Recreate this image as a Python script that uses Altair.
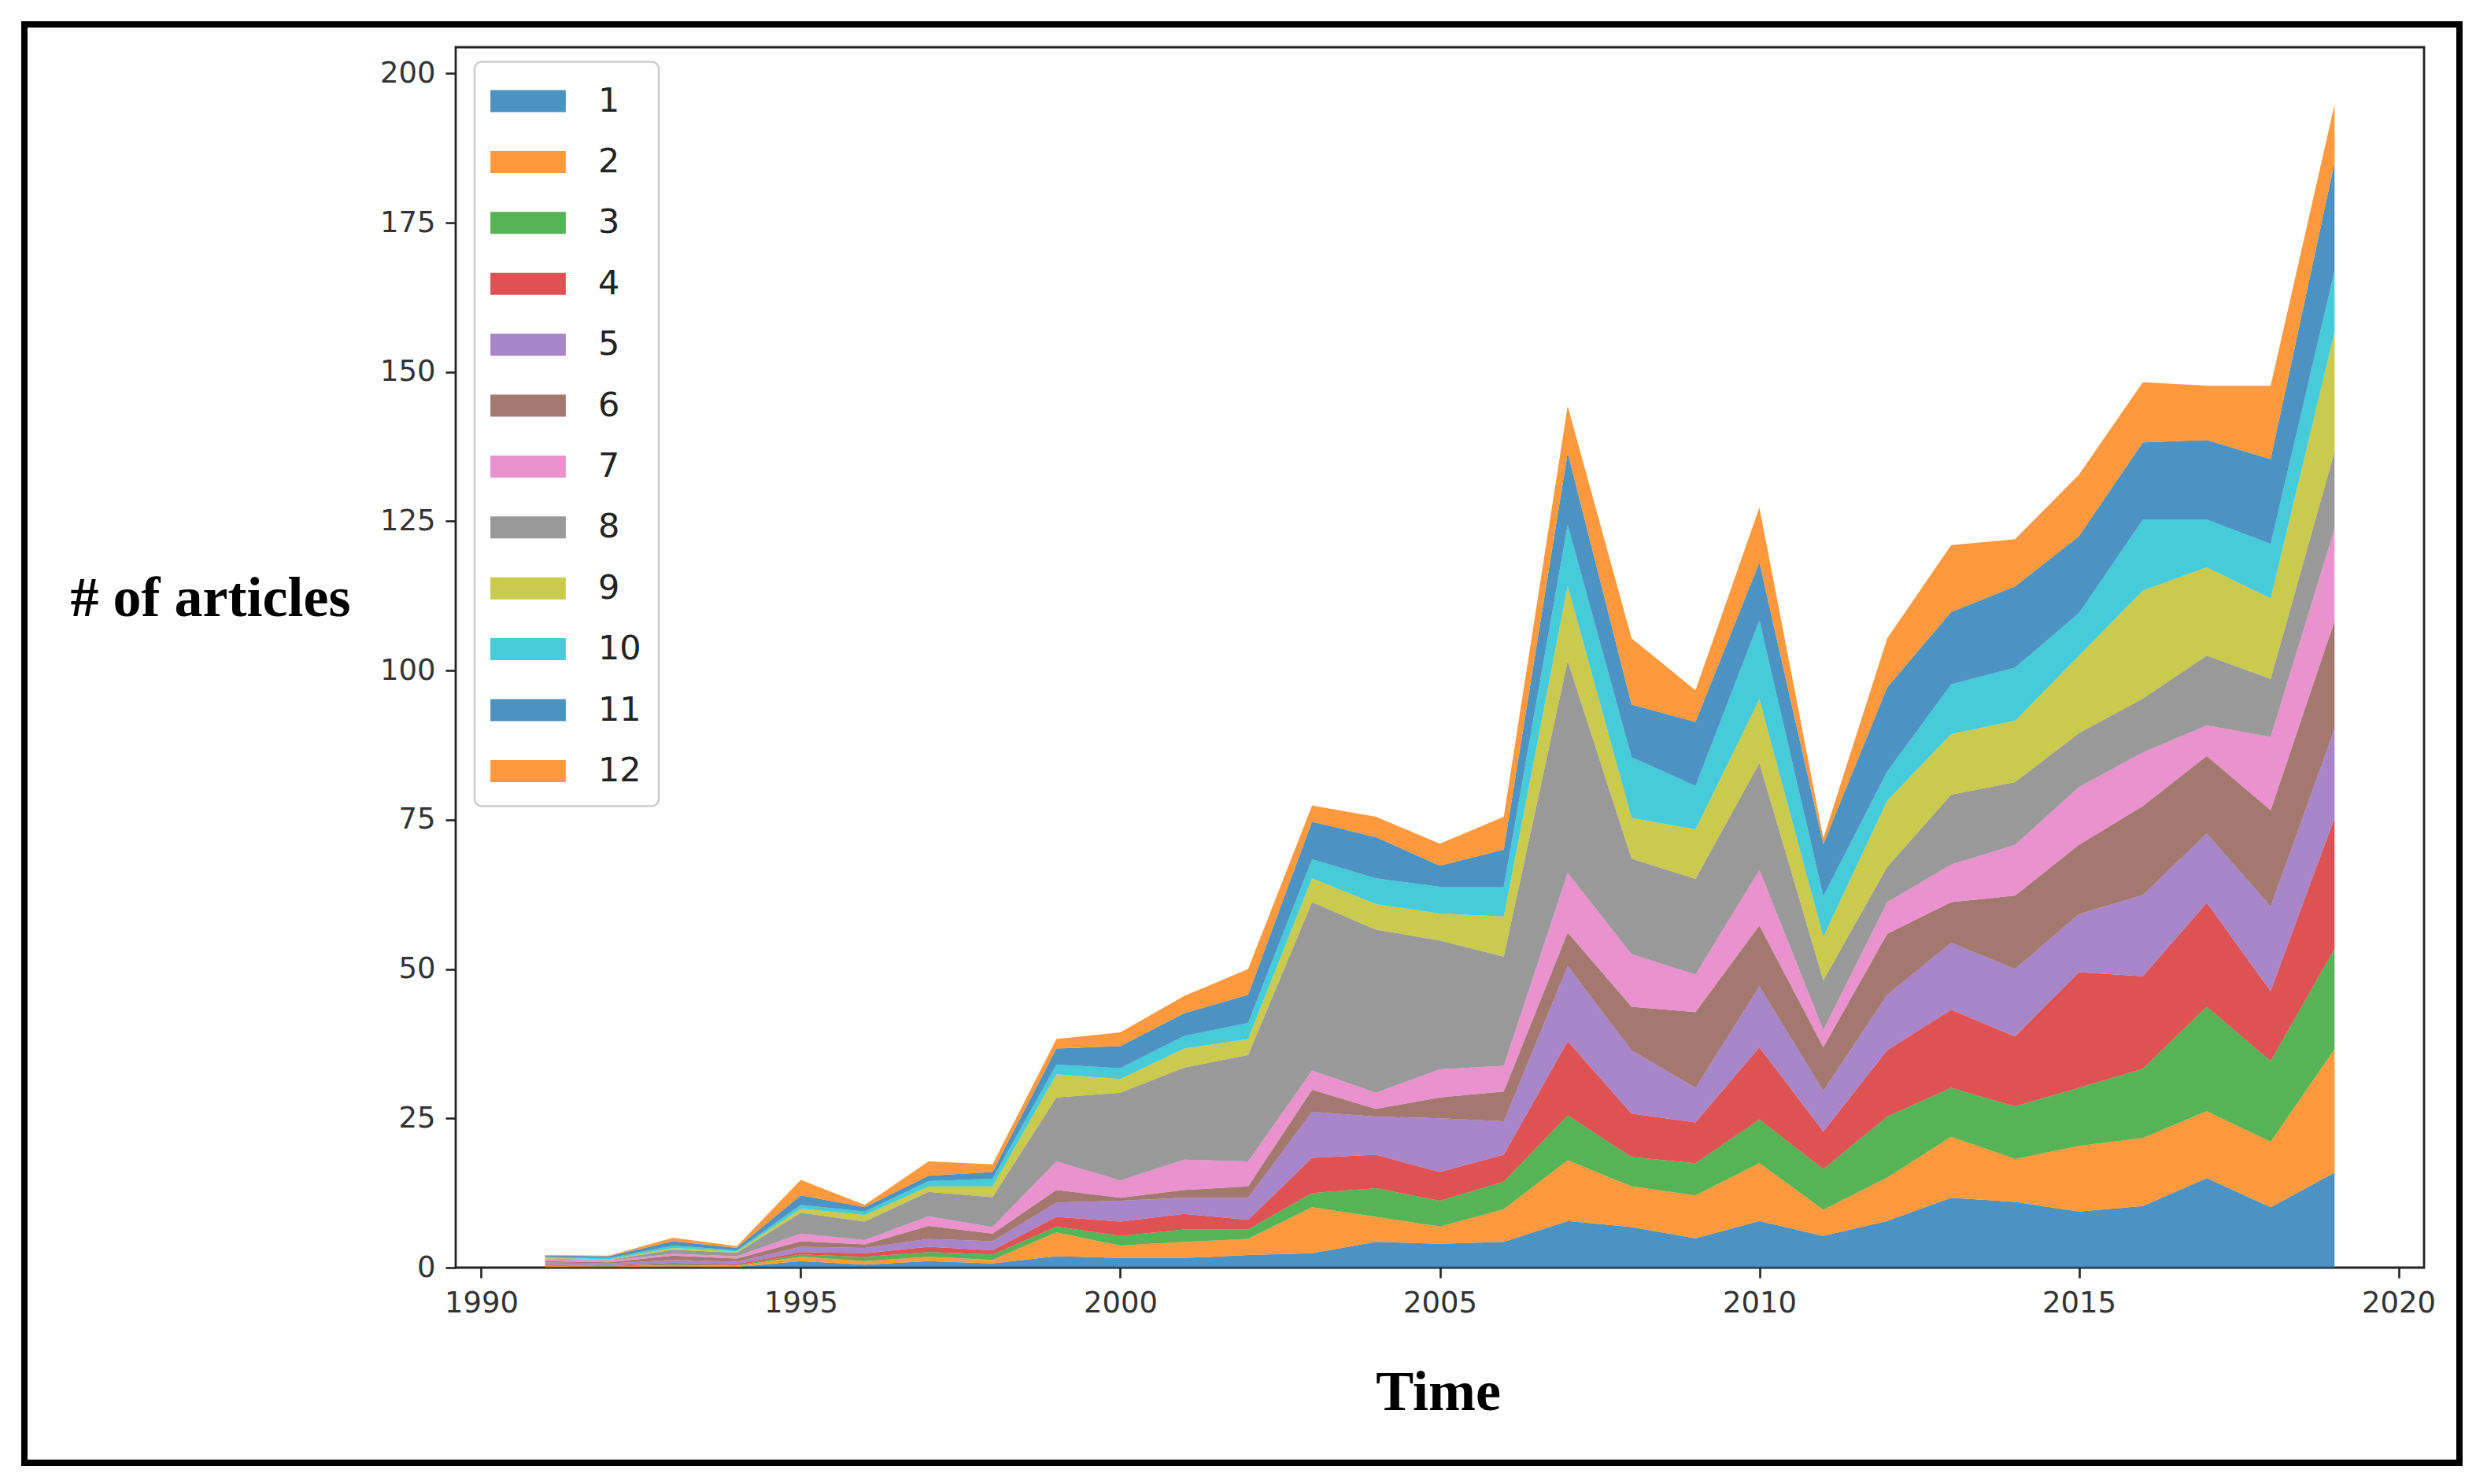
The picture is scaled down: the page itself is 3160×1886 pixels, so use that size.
import altair as alt
import pandas as pd

years = [1991, 1992, 1993, 1994, 1995, 1996, 1997, 1998, 1999, 2000,
         2001, 2002, 2003, 2004, 2005, 2006, 2007, 2008, 2009, 2010,
         2011, 2012, 2013, 2014, 2015, 2016, 2017, 2018, 2019]

topic_labels = ["1", "2", "3", "4", "5", "6", "7", "8", "9", "10", "11", "12"]
topic_colors = ["#1f77b4", "#ff7f0e", "#2ca02c", "#d62728", "#9467bd", "#8c564b",
                "#e377c2", "#7f7f7f", "#bcbd22", "#17becf", "#1f77b4", "#ff7f0e"]

s1 = [0.1, 0.1, 0.2, 0.1, 1.1, 0.5, 1.1, 0.7, 1.9, 1.6, 1.6, 2.1, 2.4, 4.3, 4.0, 4.3,
      7.8, 6.8, 4.9, 7.8, 5.3, 7.8, 11.7, 11.0, 9.4, 10.3, 15.0, 10.1, 15.9]
s2 = [0.2, 0.1, 0.2, 0.2, 0.7, 0.6, 0.7, 0.6, 4.0, 2.1, 2.7, 2.7, 7.7, 4.2, 2.9, 5.5,
      10.2, 6.8, 7.2, 9.7, 4.4, 7.3, 10.2, 7.2, 11.0, 11.4, 11.2, 11.0, 20.7]
s3 = [0.1, 0.1, 0.2, 0.1, 0.4, 0.7, 0.8, 0.9, 1.0, 1.6, 2.1, 1.6, 2.4, 4.8, 4.3, 4.6,
      7.5, 4.9, 5.4, 7.3, 6.8, 10.2, 8.2, 8.8, 9.7, 11.6, 17.5, 13.5, 16.8]
s4 = [0.1, 0.1, 0.2, 0.2, 0.4, 0.6, 0.9, 0.7, 1.6, 2.4, 2.6, 1.6, 5.9, 5.6, 4.8, 4.5,
      12.4, 7.3, 6.8, 12.1, 6.3, 11.1, 13.1, 11.7, 19.4, 15.5, 17.4, 11.7, 21.9]
s5 = [0.4, 0.3, 0.5, 0.4, 0.9, 0.9, 1.3, 1.5, 2.4, 3.5, 2.7, 3.7, 7.7, 6.4, 9.0, 5.6,
      12.6, 10.6, 5.8, 10.2, 6.8, 9.3, 11.2, 11.3, 9.7, 13.6, 11.6, 14.2, 14.9]
s6 = [0.2, 0.2, 0.7, 0.5, 0.9, 0.6, 2.2, 1.3, 2.1, 0.5, 1.3, 1.9, 3.7, 1.3, 3.5, 5.0,
      5.6, 7.3, 12.7, 10.2, 7.3, 10.2, 6.8, 12.3, 11.6, 14.9, 13.0, 16.1, 18.1]
s7 = [0.3, 0.3, 0.3, 0.4, 1.3, 0.7, 1.6, 1.1, 4.8, 2.9, 5.1, 4.2, 3.2, 2.7, 4.7, 4.3,
      10.0, 8.8, 6.3, 9.3, 2.9, 5.3, 6.3, 8.5, 9.7, 9.0, 5.1, 12.3, 15.5]
s8 = [0.1, 0.1, 0.7, 0.6, 3.5, 3.1, 4.1, 5.0, 10.7, 14.7, 15.4, 17.8, 28.2, 27.3, 21.6, 18.3,
      35.5, 16.0, 16.0, 17.9, 8.3, 5.9, 11.7, 10.5, 9.0, 9.0, 11.7, 9.7, 12.9]
s9 = [0.1, 0.1, 0.3, 0.2, 0.7, 1.1, 0.9, 1.8, 3.9, 2.3, 3.2, 2.7, 4.0, 4.3, 4.5, 6.7,
      12.6, 6.8, 8.3, 10.7, 7.3, 11.1, 10.2, 10.3, 13.0, 18.1, 14.8, 13.5, 20.0]
s10 = [0.2, 0.2, 0.4, 0.2, 0.6, 0.6, 0.9, 1.3, 1.6, 1.8, 2.1, 2.7, 3.2, 4.3, 4.5, 5.0,
       10.2, 10.2, 7.3, 13.2, 6.8, 4.9, 8.3, 8.9, 7.1, 11.9, 8.0, 9.1, 10.3]
s11 = [0.2, 0.3, 0.7, 0.4, 1.6, 0.7, 0.9, 1.1, 2.7, 3.7, 3.8, 4.7, 6.3, 6.9, 3.5, 6.2,
       12.1, 8.8, 10.7, 9.7, 8.7, 14.1, 12.1, 13.6, 12.9, 12.9, 13.3, 14.2, 18.1]
s12 = [0.1, 0.1, 0.6, 0.3, 2.6, 0.4, 2.4, 1.3, 1.6, 2.3, 2.9, 4.3, 2.7, 3.4, 3.7, 5.5,
       7.8, 11.1, 5.3, 9.2, 1.0, 8.2, 11.2, 7.9, 10.3, 10.1, 9.1, 12.3, 9.7]

x_ticks = [1990, 1995, 2000, 2005, 2010, 2015, 2020]
y_ticks = [0, 25, 50, 75, 100, 125, 150, 175, 200]

series = [s1, s2, s3, s4, s5, s6, s7, s8, s9, s10, s11, s12]
rows = []
for k, (lab, vals) in enumerate(zip(topic_labels, series)):
    for yr, v in zip(years, vals):
        rows.append({"year": yr, "topic": lab, "order": k, "value": v})
df = pd.DataFrame(rows)

W, H = 2501, 1551

area = alt.Chart(df).mark_area(opacity=0.8, interpolate="linear").encode(
    x=alt.X("year:Q",
            scale=alt.Scale(domain=[1989.6, 2020.4], nice=False, zero=False),
            axis=alt.Axis(values=x_ticks, format="d", title="Time",
                          titleX=1248, titleY=158, titleAlign="center",
                          titleBaseline="middle", labelPadding=14,
                          labelFlush=False, labelOverlap=False)),
    y=alt.Y("value:Q", stack="zero",
            scale=alt.Scale(domain=[0, 204.4], nice=False),
            axis=alt.Axis(values=y_ticks, title="# of articles", titleAngle=0,
                          titleX=-312, titleY=700, titleAlign="center",
                          titleBaseline="middle", labelPadding=13,
                          labelFlush=False, labelOverlap=False)),
    color=alt.Color("topic:N",
                    scale=alt.Scale(domain=topic_labels, range=topic_colors),
                    sort=topic_labels,
                    legend=alt.Legend(
                        title=None, orient="none", legendX=24, legendY=18.5,
                        symbolType="M-1.71,-0.5L1.71,-0.5L1.71,0.5L-1.71,0.5Z",
                        symbolSize=3136, symbolOffset=18, labelOffset=61,
                        labelFontSize=43, labelFont="DejaVu Sans", labelColor="#222",
                        rowPadding=27.4, padding=22, strokeColor="#cccccc",
                        fillColor="white", cornerRadius=9, symbolStrokeWidth=0,
                        symbolOpacity=0.8, labelLimit=300)),
    order=alt.Order("order:Q", sort="ascending"),
)

border = alt.Chart(pd.DataFrame({"k": [0]})).mark_rect(
    fillOpacity=0, stroke="black", strokeWidth=8
).encode(
    x=alt.value(-548), x2=alt.value(2546), y=alt.value(-29), y2=alt.value(1799)
)

chart = alt.layer(area, border).properties(
    width=W, height=H,
    autosize=alt.AutoSizeParams(type="none"),
    padding={"left": 571, "top": 52, "right": 72, "bottom": 267},
    background="white",
).configure_view(
    stroke="#222", strokeWidth=2.8
).configure_axis(
    grid=False, domain=False, tickSize=13, tickWidth=2.6, tickColor="#222",
    labelFont="DejaVu Sans", labelFontSize=37, labelColor="#333",
    titleFont="Liberation Serif", titleFontWeight="bold", titleFontSize=72,
    titleColor="black"
).configure_legend(
    strokeWidth=2.5
)

chart.save("out.html", embed_options={"renderer": "svg", "actions": False})
